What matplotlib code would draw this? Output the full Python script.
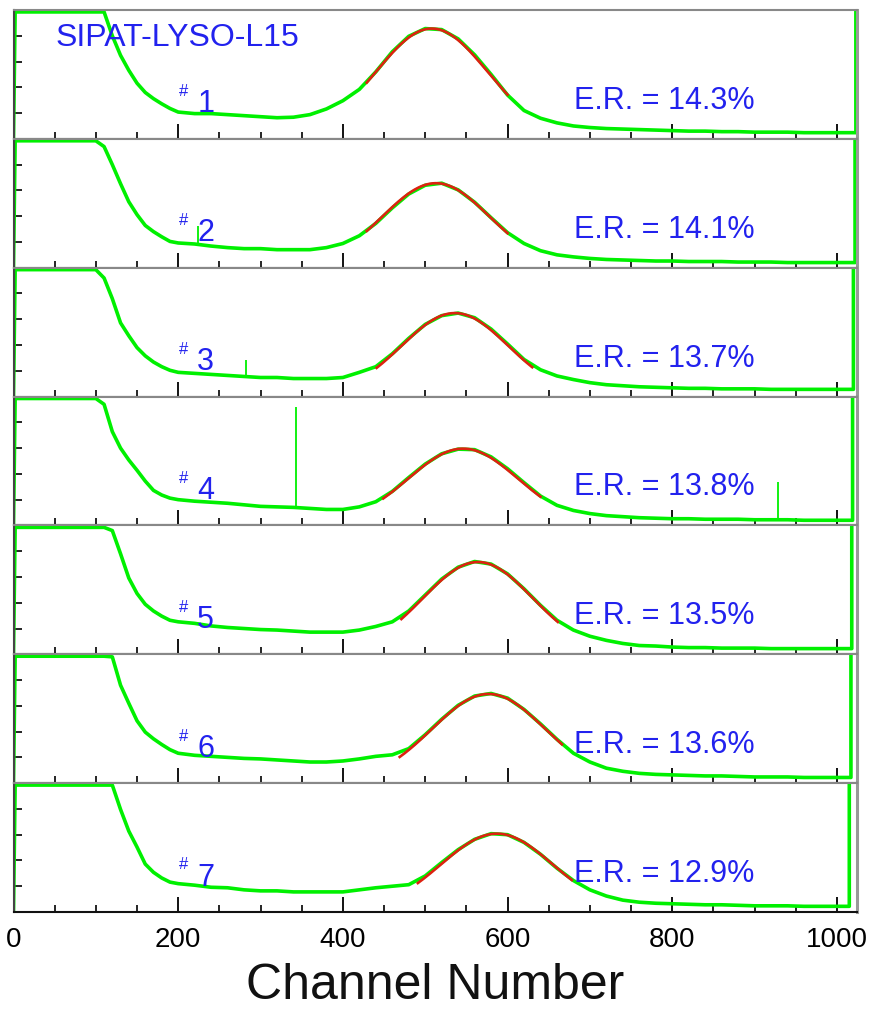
import numpy as np
import matplotlib.pyplot as plt
from matplotlib.ticker import MultipleLocator

plt.rcParams['font.family'] = ['Liberation Sans', 'DejaVu Sans']

# channel grid of the sampled spectra (finer across the low-energy fall-off)
CHANNELS = np.r_[0, 2, np.arange(20, 100, 20), np.arange(100, 200, 10),
                 np.arange(200, 1001, 20)]
YMAX = 250   # visible range of each panel; bigger counts are off scale

counts_1 = [0, 400, 400, 400, 400, 400, 400, 400, 200, 162, 133, 108, 90, 78, 68, 59,
            52, 49, 49, 47, 45, 43, 41, 42, 47, 58, 74, 96, 130, 169, 199, 214, 212, 194,
            163, 125, 85, 55, 40, 31, 25, 22, 20, 19, 18, 17, 16, 15, 15, 14, 14, 13, 13,
            13, 12, 12, 12]
counts_2 = [0, 400, 400, 400, 400, 400, 400, 235, 200, 163, 128, 103, 82, 70, 60, 51,
            48, 46, 42, 39, 37, 37, 35, 35, 35, 39, 47, 62, 86, 116, 143, 160, 164, 151,
            127, 97, 68, 47, 33, 25, 21, 18, 16, 15, 14, 13, 13, 12, 12, 12, 11, 11, 11,
            10, 10, 10, 10]
counts_3 = [0, 400, 400, 400, 400, 400, 400, 230, 190, 143, 118, 95, 79, 67, 58, 51,
            47, 45, 43, 41, 39, 37, 37, 35, 35, 35, 37, 47, 58, 83, 113, 140, 157, 162,
            153, 131, 102, 72, 52, 40, 33, 27, 23, 21, 19, 18, 17, 16, 16, 15, 15, 15, 14,
            14, 14, 14, 14]
counts_4 = [0, 400, 400, 400, 400, 400, 400, 235, 182, 150, 127, 107, 86, 68, 59, 53,
            50, 47, 45, 43, 40, 37, 36, 35, 33, 31, 31, 36, 46, 66, 93, 119, 139, 148,
            147, 133, 110, 83, 57, 39, 29, 23, 19, 17, 15, 14, 13, 13, 12, 12, 12, 11, 11,
            11, 10, 10, 10]
counts_5 = [0, 400, 400, 400, 400, 400, 400, 400, 240, 195, 148, 118, 97, 84, 74, 66,
            63, 60, 55, 52, 50, 48, 47, 45, 43, 43, 43, 47, 54, 63, 84, 115, 146, 169,
            180, 175, 156, 127, 95, 66, 47, 35, 27, 21, 17, 16, 14, 13, 13, 12, 12, 12, 11,
            11, 11, 11, 11]
counts_6 = [0, 400, 400, 400, 400, 400, 400, 400, 245, 190, 155, 121, 99, 86, 75, 65,
            58, 54, 52, 50, 48, 47, 45, 43, 41, 41, 43, 47, 52, 55, 67, 94, 124, 151,
            169, 174, 165, 143, 115, 85, 58, 41, 29, 23, 19, 17, 16, 15, 14, 14, 13, 12,
            12, 12, 11, 11, 11]
counts_7 = [0, 400, 400, 400, 400, 400, 400, 400, 400, 199, 157, 126, 93, 77, 66, 58,
            55, 52, 48, 47, 43, 41, 41, 39, 39, 39, 39, 43, 47, 50, 53, 70, 96, 121, 141,
            152, 150, 135, 112, 85, 61, 43, 31, 23, 19, 17, 16, 15, 14, 14, 13, 12, 12,
            12, 11, 11, 11]
COUNTS = [counts_1, counts_2, counts_3, counts_4, counts_5, counts_6, counts_7]

CRYSTAL = ['1', '2', '3', '4', '5', '6', '7']
RESOLUTION = ['14.3%', '14.1%', '13.7%', '13.8%', '13.5%', '13.6%', '12.9%']

# gaussian photopeak fits: mean, sigma, amplitude and fit window
FIT_MEAN = [508, 513, 536, 546, 564, 577, 587]
FIT_SIGMA = [68, 65, 65, 67, 67, 69, 68]
FIT_AMP = [214, 164, 162, 149, 179, 173, 152]
FIT_LO = [429, 429, 441, 449, 471, 469, 491]
FIT_HI = [600, 600, 630, 640, 661, 666, 678]

# last (overflow) channel of every spectrum
OVERFLOW_CH = [1023, 1022, 1020, 1019, 1018, 1017, 1015]

# single-channel noise spikes
spike_panel = [1, 2, 3, 3]
spike_ch = [224, 282, 343, 928]
spike_top = [80, 70, 229, 85]

GREEN = '#00f000'
RED = '#dd2211'
BLUE = '#2222ee'

fig = plt.figure(figsize=(8.74, 10.11), dpi=100)
W, H = 874.0, 1011.0
left, right = 13.5, 856.7
top, bottom = 10.0, 912.0
ph = (bottom - top) / 7

axes = []
for i in range(7):
    y0 = top + (i + 1) * ph
    ax = fig.add_axes([left / W, 1 - y0 / H, (right - left) / W, ph / H])
    axes.append(ax)
    vals = np.minimum(np.array(COUNTS[i], dtype=float), 0.985 * YMAX)

    ov = OVERFLOW_CH[i]
    ax.plot(np.r_[CHANNELS, ov, ov], np.r_[vals, vals[-1], 0.985 * YMAX],
            color=GREEN, lw=2.6, solid_joinstyle='round', zorder=2)

    for p, ch, t in zip(spike_panel, spike_ch, spike_top):
        if p == i:
            ax.vlines(ch, np.interp(ch, CHANNELS, vals), t, color=GREEN, lw=1.3, zorder=2)

    xs = np.linspace(FIT_LO[i], FIT_HI[i], 200)
    ys = FIT_AMP[i] * np.exp(-0.5 * ((xs - FIT_MEAN[i]) / FIT_SIGMA[i]) ** 2)
    ax.plot(xs, ys, color=RED, lw=1.9, zorder=3)

    ax.set_xlim(0, 1024)
    ax.set_ylim(0, YMAX)
    ax.set_xticks(range(0, 1001, 200))
    ax.xaxis.set_minor_locator(MultipleLocator(50))
    ax.set_yticks([50, 100, 150, 200])
    ax.tick_params(axis='x', which='major', direction='in', length=11, width=1.3,
                   labelsize=20, pad=11, labelbottom=(i == 6))
    ax.tick_params(axis='x', which='minor', direction='in', length=5, width=1.2)
    ax.tick_params(axis='y', direction='in', length=6, width=1.2, labelleft=False)

    ax.spines['left'].set_color('#444444')
    ax.spines['bottom'].set_color('#111111')
    ax.spines['top'].set_color('#888888')
    ax.spines['right'].set_color('#999999')
    for s in ax.spines.values():
        s.set_linewidth(1.5)
    ax.spines['right'].set_linewidth(2.2)

    tr = ax.get_xaxis_transform()
    ax.text(201, 0.33, '#', fontsize=12, color=BLUE, transform=tr)
    ax.text(223, 0.205, CRYSTAL[i], fontsize=22, color=BLUE, transform=tr)
    ax.text(681, 0.233, 'E.R. = ' + RESOLUTION[i], fontsize=22, color=BLUE, transform=tr)

axes[0].text(51, 0.72, 'SIPAT-LYSO-L15', fontsize=23, color=BLUE,
             transform=axes[0].get_xaxis_transform())

fig.text(435 / W, 1 - 986 / H, 'Channel Number', ha='center', va='center',
         fontsize=36, color='#111111')

fig.savefig('out.png', dpi=100)
